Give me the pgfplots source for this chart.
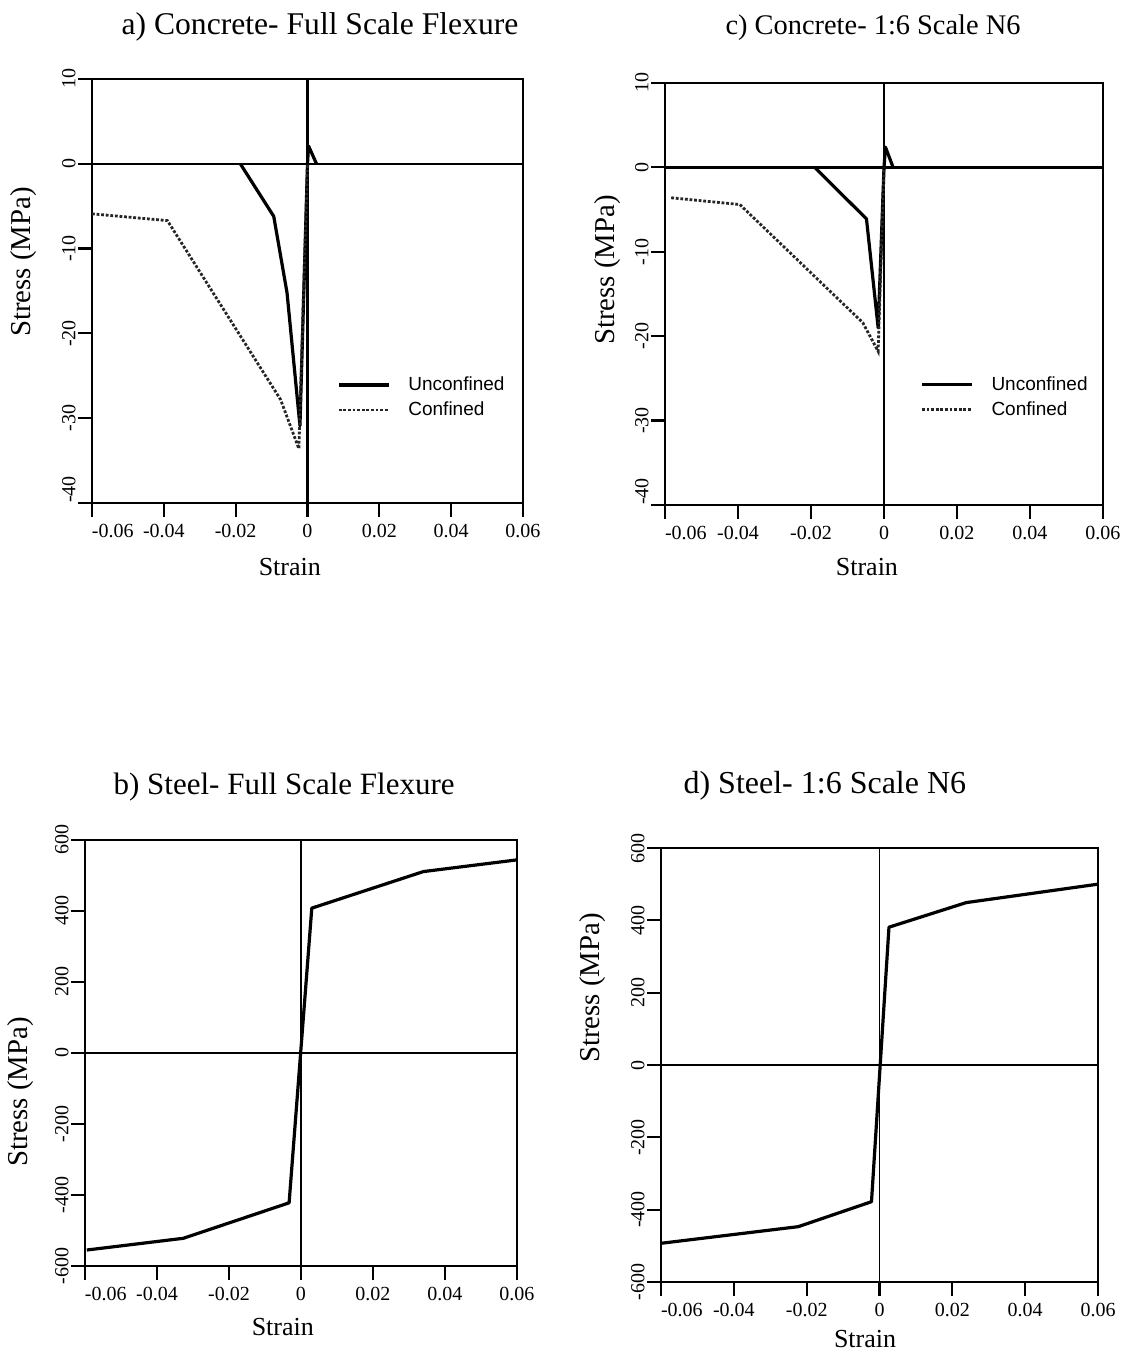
\documentclass[border=0pt]{standalone}
\usepackage{fontspec}
\setmainfont{Liberation Serif}
\setsansfont{Liberation Sans}
\usepackage{pgfplots}
\pgfplotsset{compat=1.18}
\pgfplotsset{
  panel/.style={
    scale only axis, anchor=south west, clip=false,
    xmin=-0.06, xmax=0.06, scaled x ticks=false, scaled y ticks=false,
    xtick={-0.06,-0.04,-0.02,0,0.02,0.04,0.06},
    xticklabels={\makebox[0pt][l]{-0.06},-0.04,-0.02,0,0.02,0.04,0.06},
    tick align=outside, xtick pos=bottom, ytick pos=left,
    major tick length=7pt,
    tick style={black, line width=1.1pt},
    axis line style={line width=1.2pt},
    ticklabel style={font=\fontsize{10}{12}\selectfont},
    yticklabel style={rotate=90, anchor=south, inner sep=1pt},
    xlabel={Strain}, ylabel={Stress (MPa)},
    xlabel style={font=\fontsize{13}{15}\selectfont, anchor=base},
    ylabel style={font=\fontsize{14.4}{16}\selectfont, anchor=center},
  },
  concrete/.style={
    ymin=-40, ymax=10, ytick={-40,-30,-20,-10,0,10},
    yticklabels={\makebox[0pt][l]{-40},-30,-20,-10,0,10},
    legend cell align=left,
    legend image code/.code={\draw[##1] (0pt,0pt) -- (25pt,0pt); \path (33pt,0pt);},
    legend style={draw=none, fill=none, anchor=west, inner sep=0pt, row sep=2.5pt,
      font=\sffamily\fontsize{9.5}{11}\selectfont,
      nodes={inner sep=1pt, text height=7pt, text depth=1pt}},
  },
  steel/.style={
    ymin=-600, ymax=600, ytick={-600,-400,-200,0,200,400,600},
    yticklabels={-600,-400,-200,0,200,400,600},
  },
  unconf/.style={black, line width=1.6pt, line join=round},
  conf/.style={black!85, line width=1.4pt, dash pattern=on 1.4pt off 0.9pt},
  zeroc/.style={black, line width=1.2pt, forget plot},
  zeros/.style={black, line width=0.8pt, forget plot},
}
\begin{document}
\begin{tikzpicture}
\useasboundingbox (0,0) rectangle (565.5pt,678pt);

% a) Concrete - Full Scale Flexure
\begin{axis}[panel, concrete, at={(46pt,426.5pt)}, width=215.5pt, height=212pt,
  title={a) Concrete- Full Scale Flexure},
  title style={at={(axis description cs:0.529,1.101)}, anchor=base, yshift=-5pt, font=\fontsize{15.8}{18}\selectfont},
  xlabel style={at={(axis description cs:0.459,-0.170)}},
  ylabel style={at={(axis description cs:-0.158,0.568)}},
  legend style={at={(axis description cs:0.568,0.249)}}]
\addplot[zeroc] coordinates {(-0.06,0) (0.06,0)};
\addplot[zeroc] coordinates {(0,-40) (0,10)};
\addplot[unconf] coordinates {(-0.0187,0) (-0.0094,-6.2) (-0.0057,-15.2) (-0.0021,-30.9) (0,0) (0.0003,2.1) (0.0025,0)};
\addlegendentry{Unconfined}
\addplot[conf] coordinates {(-0.06,-5.9) (-0.039,-6.7) (-0.0075,-27.8) (-0.0024,-33.6) (0,0)};
\addlegendentry{Confined}
\end{axis}

% c) Concrete - 1:6 Scale N6
\begin{axis}[panel, concrete, at={(332.5pt,425.5pt)}, width=219pt, height=211pt,
  title={c) Concrete- 1:6 Scale N6},
  title style={at={(axis description cs:0.475,1.110)}, anchor=base, yshift=-5pt, font=\fontsize{14.2}{17}\selectfont},
  xlabel style={at={(axis description cs:0.461,-0.166)}},
  ylabel style={at={(axis description cs:-0.130,0.557)}},
  legend style={at={(axis description cs:0.582,0.255)}}]
\addplot[zeroc] coordinates {(-0.06,0) (0.06,0)};
\addplot[zeroc] coordinates {(0,-40) (0,10)};
\addplot[unconf] coordinates {(-0.019,0) (-0.0048,-6.1) (-0.0016,-19) (0,0) (0.0004,2.4) (0.0025,0)};
\addlegendentry{Unconfined}
\addplot[conf] coordinates {(-0.0583,-3.6) (-0.0395,-4.4) (-0.0058,-18.4) (-0.0016,-21.8) (0,0)};
\addlegendentry{Confined}
\end{axis}

% b) Steel - Full Scale Flexure
\begin{axis}[panel, steel, at={(42.5pt,45pt)}, width=216pt, height=213pt,
  title={b) Steel- Full Scale Flexure},
  title style={at={(axis description cs:0.461,1.101)}, anchor=base, yshift=-5pt, font=\fontsize{15.5}{18}\selectfont},
  xlabel style={at={(axis description cs:0.458,-0.162)}},
  ylabel style={at={(axis description cs:-0.150,0.408)}}]
\addplot[zeros] coordinates {(-0.06,0) (0.06,0)};
\addplot[zeros] coordinates {(0,-600) (0,600)};
\addplot[unconf] coordinates {(-0.0595,-555) (-0.0327,-522) (-0.0033,-422) (0.003,408) (0.034,511) (0.06,544)};
\end{axis}

% d) Steel - 1:6 Scale N6
\begin{axis}[panel, steel, at={(330.5pt,37pt)}, width=218.5pt, height=217pt,
  title={d) Steel- 1:6 Scale N6},
  title style={at={(axis description cs:0.375,1.12)}, anchor=base, yshift=-5pt, font=\fontsize{16}{18}\selectfont},
  xlabel style={at={(axis description cs:0.467,-0.152)}},
  ylabel style={at={(axis description cs:-0.157,0.677)}}]
\addplot[zeros] coordinates {(-0.06,0) (0.06,0)};
\addplot[zeros] coordinates {(0,-600) (0,600)};
\addplot[unconf] coordinates {(-0.06,-493) (-0.0223,-447) (-0.0022,-378) (0.0026,381) (0.0238,449) (0.06,500)};
\end{axis}
\end{tikzpicture}
\end{document}
